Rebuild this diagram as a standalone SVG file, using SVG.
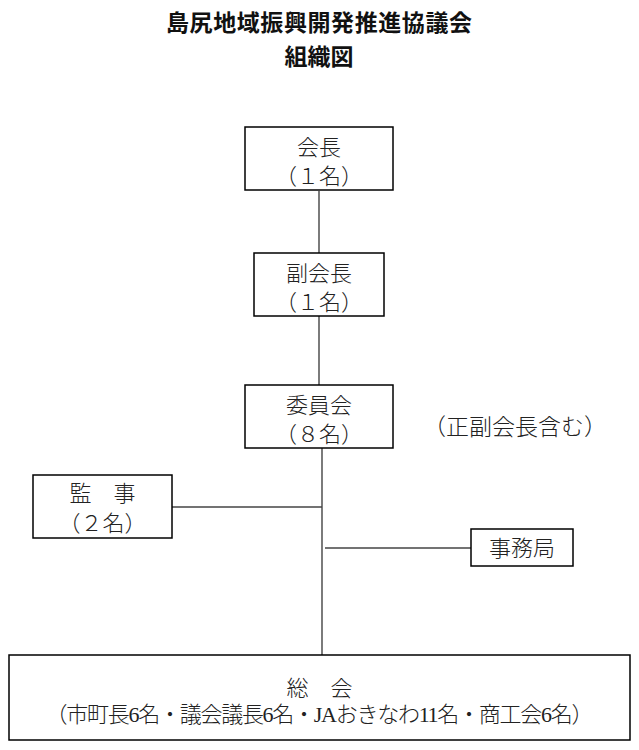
<svg xmlns="http://www.w3.org/2000/svg" width="639" height="750" viewBox="0 0 639 750">
<style>
.box{fill:#fff;stroke:#000;stroke-width:1.5}
.t{font-family:"Liberation Serif","Noto Sans CJK JP",serif;font-weight:300;font-size:22px;fill:#222;text-anchor:middle}
.title{font-family:"Noto Sans CJK JP","Liberation Sans",sans-serif;font-weight:700;font-size:23px;fill:#111;text-anchor:middle}
.ln{stroke:#444;stroke-width:1.4;fill:none}
</style>
<rect width="639" height="750" fill="#fff"/>
<g id="title">
<text class="title" x="319" y="31" textLength="306" lengthAdjust="spacing">島尻地域振興開発推進協議会</text>
<text class="title" x="319" y="65">組織図</text>
</g>
<g id="connectors">
<line class="ln" x1="319" y1="191" x2="319" y2="253"/>
<line class="ln" x1="319" y1="316" x2="319" y2="385"/>
<line class="ln" x1="322" y1="448" x2="322" y2="655"/>
<line class="ln" x1="172" y1="507" x2="322" y2="507"/>
<line class="ln" x1="325" y1="548" x2="471" y2="548"/>
</g>
<g id="kaicho">
<rect class="box" x="245" y="127" width="148" height="63"/>
<text class="t" x="319" y="155">会長</text>
<text class="t" x="319" y="184">（１名）</text>
</g>
<g id="fukukaicho">
<rect class="box" x="254" y="253" width="130" height="63"/>
<text class="t" x="319" y="281">副会長</text>
<text class="t" x="319" y="310">（１名）</text>
</g>
<g id="iinkai">
<rect class="box" x="245" y="385" width="148" height="63"/>
<text class="t" x="319" y="413">委員会</text>
<text class="t" x="319" y="442">（８名）</text>
</g>
<g id="note">
<text class="t" x="515" y="435" style="font-size:23px">（正副会長含む）</text>
</g>
<g id="kanji">
<rect class="box" x="33" y="475" width="139" height="63"/>
<text class="t" x="102.5" y="501">監　事</text>
<text class="t" x="102.5" y="531">（２名）</text>
</g>
<g id="jimukyoku">
<rect class="box" x="471" y="529" width="102" height="37"/>
<text class="t" x="522" y="556">事務局</text>
</g>
<g id="sokai">
<rect class="box" x="9" y="655" width="621" height="85"/>
<text class="t" x="319.5" y="696">総　会</text>
<text class="t" x="319.5" y="722" textLength="548" lengthAdjust="spacing">（市町長6名・議会議長6名・JAおきなわ11名・商工会6名）</text>
</g>
</svg>
